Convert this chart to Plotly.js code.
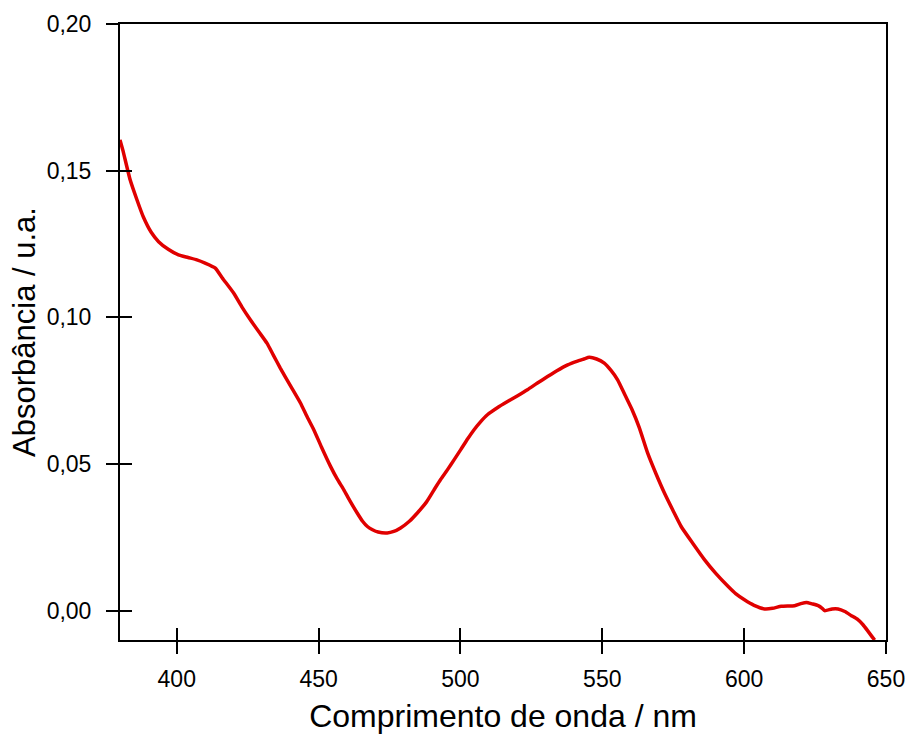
<!DOCTYPE html>
<html>
<head>
<meta charset="utf-8">
<script src="https://cdn.plot.ly/plotly-3.0.1.min.js"></script>
<style>html,body{margin:0;padding:0;background:#fff;}#chart{width:908px;height:734px;}</style>
</head>
<body>
<div id="chart"></div>
<script>
var wavelength = [380, 381, 383.6, 386, 388.2, 391, 393.6, 397, 400.6, 404, 407.1, 410, 413.6, 416, 420.1, 423, 426, 429, 431.8, 434, 436.5, 440, 443.6, 446, 448.3, 451, 454.2, 456.5, 458.9, 461, 463.6, 465.5, 467.2, 469, 471, 474.2, 476.5, 478.9, 482, 484.8, 488, 490.7, 493, 495.4, 497.8, 500.1, 502.5, 504.8, 507, 509.5, 513, 516.6, 520, 523.6, 527, 530.7, 534, 537.8, 541, 543.5, 545.4, 548, 550.7, 553, 555.4, 558, 560.5, 563, 566, 569, 571.9, 575, 577.8, 582, 586, 590, 594.3, 597, 600.1, 603.5, 607.2, 610, 613.1, 617.8, 620, 622, 624, 626.1, 627.5, 628.4, 631, 633.1, 635.5, 637.8, 640, 641.9, 643.5, 644.8, 646];
var absorbance = [0.1605, 0.157, 0.1468, 0.140, 0.1343, 0.129, 0.1258, 0.1232, 0.1213, 0.1204, 0.1196, 0.1185, 0.1168, 0.1135, 0.1082, 0.1035, 0.0991, 0.0950, 0.0912, 0.0872, 0.0827, 0.0768, 0.0708, 0.0660, 0.0617, 0.0558, 0.0492, 0.0450, 0.0412, 0.0375, 0.0333, 0.0305, 0.0287, 0.0276, 0.0268, 0.0265, 0.0270, 0.0282, 0.0305, 0.0333, 0.0370, 0.0412, 0.0447, 0.0480, 0.0515, 0.0549, 0.0585, 0.0617, 0.0643, 0.0668, 0.0692, 0.0713, 0.0732, 0.0753, 0.0775, 0.0798, 0.0818, 0.0838, 0.0850, 0.0858, 0.0864, 0.0858, 0.0844, 0.0820, 0.0787, 0.0735, 0.0685, 0.0625, 0.0537, 0.0465, 0.0401, 0.0340, 0.0287, 0.0228, 0.0174, 0.0127, 0.0083, 0.0058, 0.0037, 0.0018, 0.0006, 0.0008, 0.0015, 0.0017, 0.0024, 0.0028, 0.0023, 0.0017, 0.0008, 0.0000, 0.0006, 0.0006, -0.0003, -0.0017, -0.0030, -0.0048, -0.0068, -0.0085, -0.0100];
var xTicks = [400, 450, 500, 550, 600, 650];
var yTicks = [0.00, 0.05, 0.10, 0.15, 0.20];
var xTitle = 'Comprimento de onda / nm';
var yTitle = 'Absorbância / u.a.';

var fontFam = 'Liberation Sans, Arial, sans-serif';
var traces = [{
  x: wavelength, y: absorbance, type: 'scatter', mode: 'lines',
  line: {color: '#e00000', width: 3.5, shape: 'spline', smoothing: 0.5},
  hoverinfo: 'skip', showlegend: false
}, {
  x: [wavelength[0]], y: [absorbance[0]], xaxis: 'x2', yaxis: 'y2',
  type: 'scatter', mode: 'markers', marker: {opacity: 0}, showlegend: false, hoverinfo: 'skip'
}];
var xr = [380, 650], yr = [-0.01, 0.20];
var layout = {
  width: 908, height: 734,
  margin: {l: 120, r: 22, t: 24, b: 94},
  paper_bgcolor: '#fff', plot_bgcolor: '#fff',
  separators: ', ',
  font: {family: fontFam, color: '#000', size: 23},
  xaxis: {
    range: xr, tickvals: xTicks, ticks: 'outside', ticklen: 12, tickwidth: 2, tickcolor: '#000',
    showline: true, linewidth: 2, linecolor: '#000', mirror: true, showgrid: false, zeroline: false,
    tickfont: {size: 23, family: fontFam}, ticklabelstandoff: 5,
    title: {text: xTitle, font: {size: 32, family: fontFam}, standoff: 22}
  },
  yaxis: {
    range: yr, tickvals: yTicks, tickformat: '.2f', ticks: 'outside', ticklen: 12, tickwidth: 2, tickcolor: '#000',
    showline: true, linewidth: 2, linecolor: '#000', mirror: true, showgrid: false, zeroline: false,
    tickfont: {size: 23, family: fontFam}, ticklabelstandoff: 10,
    title: {text: yTitle, font: {size: 31, family: fontFam}, standoff: 2}
  },
  xaxis2: {
    overlaying: 'x', range: xr, tickvals: xTicks, ticks: 'inside', ticklen: 12, tickwidth: 2, tickcolor: '#000',
    showticklabels: false, showline: false, showgrid: false, zeroline: false, side: 'bottom', anchor: 'y2'
  },
  yaxis2: {
    overlaying: 'y', range: yr, tickvals: yTicks, ticks: 'inside', ticklen: 12, tickwidth: 2, tickcolor: '#000',
    showticklabels: false, showline: false, showgrid: false, zeroline: false, side: 'left', anchor: 'x2'
  }
};
Plotly.newPlot('chart', traces, layout, {displayModeBar: false, staticPlot: true});
</script>
</body>
</html>
